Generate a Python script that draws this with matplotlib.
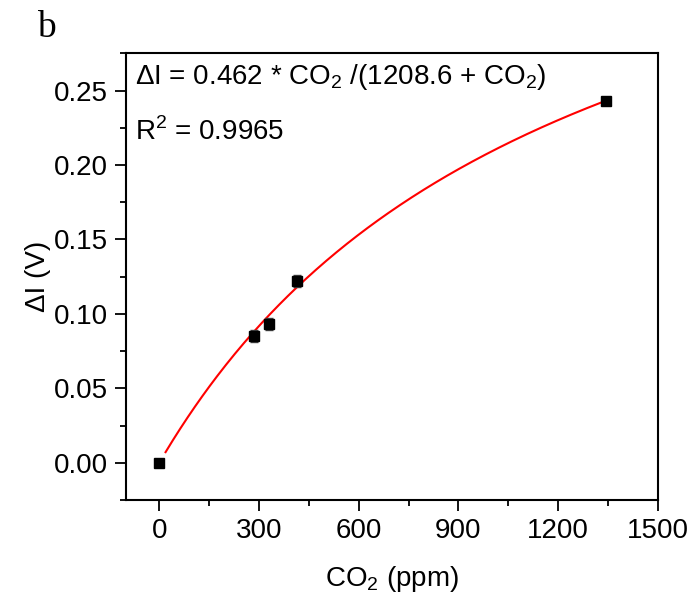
import numpy as np
import matplotlib
matplotlib.use("Agg")
import matplotlib.pyplot as plt
from matplotlib.ticker import MultipleLocator, FormatStrFormatter

co2 = [0, 284, 330, 414, 1345]
dI = [0.0, 0.085, 0.093, 0.122, 0.243]
err = [0.002, 0.004, 0.004, 0.004, 0.002]
fit_a, fit_b = 0.462, 1208.6

plt.rcParams['font.family'] = ['Liberation Sans', 'DejaVu Sans']
plt.rcParams['mathtext.fontset'] = 'custom'
plt.rcParams['mathtext.rm'] = 'Liberation Sans'

fig = plt.figure(figsize=(6.98, 6.08), dpi=100)
ax = fig.add_axes([0.1805, 0.1776, 0.7622, 0.7347])

xf = np.linspace(19, 1345, 300)
ax.plot(xf, fit_a * xf / (fit_b + xf), color='red', lw=1.5, zorder=2)
ax.errorbar(co2, dI, yerr=err, fmt='s', color='black', ms=6.5, capsize=3,
            elinewidth=1, capthick=1, ecolor='#444444', zorder=3)

ax.set_xlim(-100, 1500)
ax.set_ylim(-0.025, 0.275)
ax.xaxis.set_major_locator(MultipleLocator(300))
ax.xaxis.set_minor_locator(MultipleLocator(150))
ax.yaxis.set_major_locator(MultipleLocator(0.05))
ax.yaxis.set_minor_locator(MultipleLocator(0.025))
ax.yaxis.set_major_formatter(FormatStrFormatter('%.2f'))
ax.tick_params(which='major', direction='out', length=8, width=1.3, labelsize=20, pad=5)
ax.tick_params(which='minor', direction='out', length=4.5, width=1.3)
for s in ax.spines.values():
    s.set_linewidth(1.5)

ax.set_xlabel('CO$_2$ (ppm)', fontsize=20, labelpad=14)
ax.set_ylabel('ΔI (V)', fontsize=20, labelpad=2)

ax.text(0.017, 0.946, 'ΔI = 0.462 * CO$_2$ /(1208.6 + CO$_2$)', transform=ax.transAxes,
        fontsize=20, va='center', ha='left')
ax.text(0.017, 0.825, 'R$^2$ = 0.9965', transform=ax.transAxes,
        fontsize=20, va='center', ha='left')

fig.text(37/698, 1 - 28/608, 'b', fontsize=27, family=['Liberation Serif', 'DejaVu Serif'],
         va='center', ha='left')

fig.savefig('out.png', dpi=100)
